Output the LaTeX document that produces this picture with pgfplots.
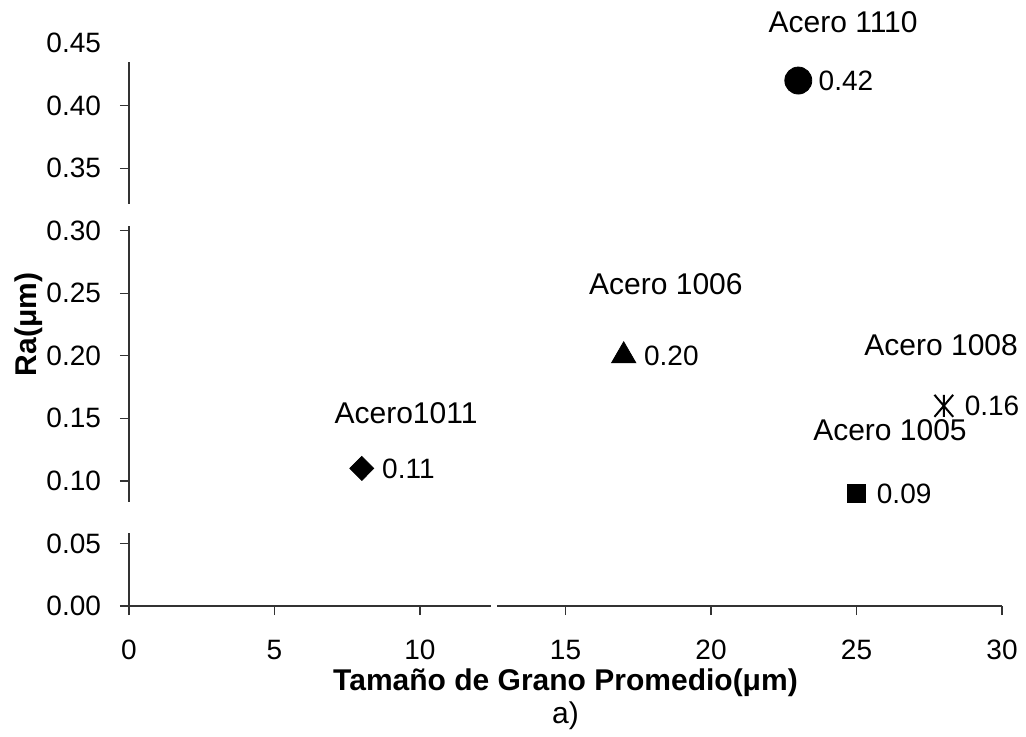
\documentclass[border=0pt]{standalone}
\usepackage{fontspec}
\setmainfont{Liberation Sans}
\usepackage{pgfplots}
\pgfplotsset{compat=1.18}
\newcommand{\chartfont}{\fontsize{14}{15}\selectfont}
\newcommand{\notefont}{\fontsize{15}{16}\selectfont}
% asterisk drawn as an X with a vertical bar
\pgfdeclareplotmark{xstar}{%
  \pgfpathmoveto{\pgfqpoint{-.85\pgfplotmarksize}{-\pgfplotmarksize}}%
  \pgfpathlineto{\pgfqpoint{.85\pgfplotmarksize}{\pgfplotmarksize}}%
  \pgfpathmoveto{\pgfqpoint{-.85\pgfplotmarksize}{\pgfplotmarksize}}%
  \pgfpathlineto{\pgfqpoint{.85\pgfplotmarksize}{-\pgfplotmarksize}}%
  \pgfpathmoveto{\pgfqpoint{0pt}{-\pgfplotmarksize}}%
  \pgfpathlineto{\pgfqpoint{0pt}{\pgfplotmarksize}}%
  \pgfusepathqstroke}
\begin{document}
\begin{tikzpicture}
\begin{axis}[
  scale only axis,
  width=436.5pt, height=281.5pt,
  xmin=0, xmax=30, ymin=0, ymax=0.45,
  axis lines*=left,
  axis line style={line width=0.6pt, black!80},
  tick style={line width=0.6pt, black!80},
  tick align=outside,
  major tick length=4.5pt,
  xtick={0,5,10,15,20,25,30},
  ytick={0,0.05,0.10,0.15,0.20,0.25,0.30,0.35,0.40,0.45},
  /pgf/number format/assume math mode=true,
  tick label style={font=\chartfont},
  xticklabel style={yshift=-9pt},
  yticklabel style={xshift=-6pt, /pgf/number format/.cd, fixed, fixed zerofill, precision=2},
  xlabel={\textbf{Tamaño de Grano Promedio(μm)}\\a)},
  xlabel style={font=\fontsize{15}{16.5}\selectfont, align=center, at={(axis description cs:0.5,0)}, anchor=base, yshift=-58.5pt},
  ylabel={\textbf{Ra(μm)}},
  ylabel style={font=\notefont, at={(axis description cs:0,0.5)}, anchor=center, yshift=50pt},
  clip=false,
  point meta=explicit symbolic,
  nodes near coords,
  every node near coord/.append style={font=\chartfont, anchor=west, inner sep=0pt, xshift=10pt, yshift=0pt},
]
% Acero1011
\addplot[only marks, black, mark=diamond*, mark size=6pt, mark options={xscale=1.33}] coordinates {(8,0.11) [0.11]};
% Acero 1006
\addplot[only marks, black, mark=triangle*, mark size=7pt] coordinates {(17,0.20) [0.20]};
% Acero 1110
\addplot[only marks, black, mark=*, mark size=6.75pt] coordinates {(23,0.42) [0.42]};
% Acero 1005
\addplot[only marks, black, mark=square*, mark size=4.5pt] coordinates {(25,0.09) [0.09]};
% Acero 1008
\addplot[only marks, black, mark=xstar, mark size=5.5pt, mark options={line width=1pt}] coordinates {(28,0.16) [0.16]};

\node[font=\notefont] at (axis cs:24.54,0.4668) {Acero 1110};
\node[font=\notefont] at (axis cs:18.45,0.2574) {Acero 1006};
\node[font=\notefont] at (axis cs:27.91,0.2086) {Acero 1008};
\node[font=\notefont] at (axis cs:26.15,0.1405) {Acero 1005};
\node[font=\notefont] at (axis cs:9.52,0.1543) {Acero1011};

\coordinate (o) at (axis cs:0,0);
\coordinate (ga1) at (axis cs:0,0.4345);
\coordinate (ga2) at (axis cs:0,0.46);
\coordinate (gb1) at (axis cs:0,0.3215);
\coordinate (gb2) at (axis cs:0,0.3035);
\coordinate (gc1) at (axis cs:0,0.083);
\coordinate (gc2) at (axis cs:0,0.0585);
\coordinate (gd1) at (axis cs:12.45,0);
\coordinate (gd2) at (axis cs:12.65,0);
\end{axis}
% breaks in the axis lines
\fill[white] ([xshift=-6pt]ga1) rectangle ([xshift=1pt]ga2);
\fill[white] ([xshift=-1pt]gb2) rectangle ([xshift=1pt]gb1);
\fill[white] ([xshift=-1pt]gc2) rectangle ([xshift=1pt]gc1);
\fill[white] ([yshift=-1pt]gd1) rectangle ([yshift=1pt]gd2);
\pgfresetboundingbox
\path ([shift={(-64.5pt,-65pt)}]o) rectangle ([shift={(448.5pt,303pt)}]o);
\end{tikzpicture}
\end{document}
